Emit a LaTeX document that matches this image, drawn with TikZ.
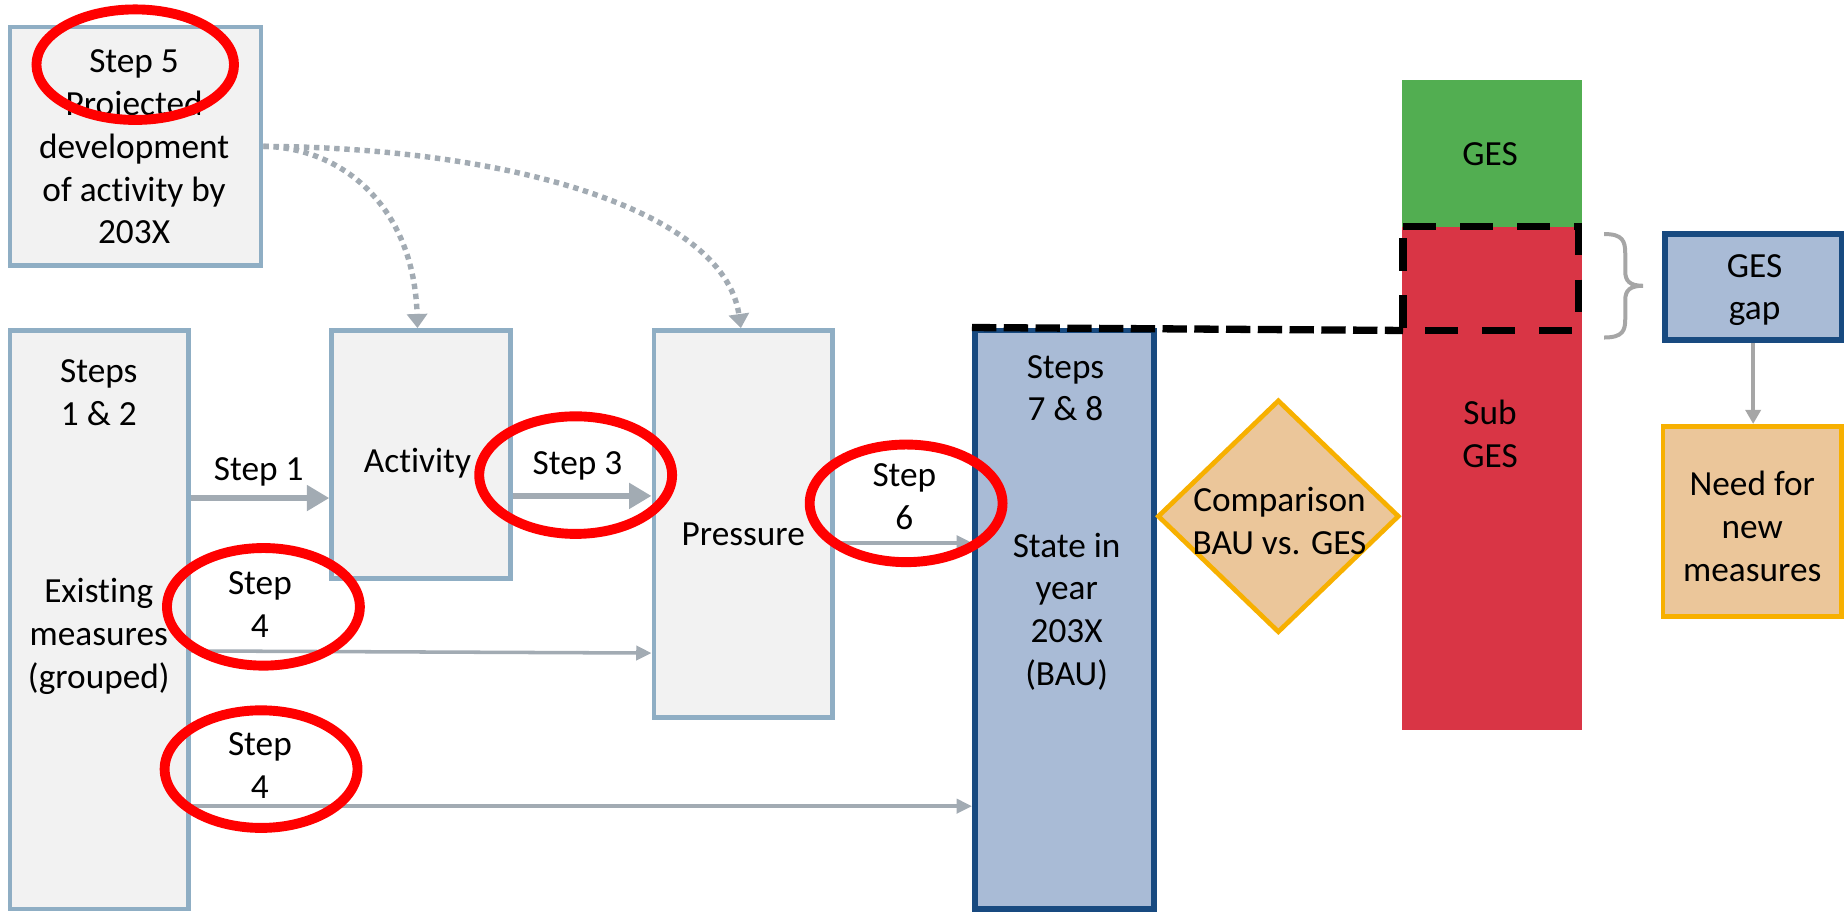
\documentclass[tikz,border=0pt]{standalone}
\usepackage{fontspec}
\setmainfont{Carlito}[Ligatures={NoCommon}]
\usetikzlibrary{arrows.meta,shapes.geometric,fit}
\definecolor{boxfill}{RGB}{242,242,242}
\definecolor{boxline}{RGB}{143,174,196}
\definecolor{conn}{RGB}{162,171,179}
\definecolor{bluefill}{RGB}{169,187,214}
\definecolor{blueline}{RGB}{24,74,128}
\definecolor{orfill}{RGB}{235,198,154}
\definecolor{orline}{RGB}{247,176,0}
\definecolor{gesgreen}{RGB}{82,174,81}
\definecolor{gesred}{RGB}{217,53,69}
\definecolor{bracegray}{RGB}{166,166,166}
\begin{document}
\begin{tikzpicture}[x=0.5pt,y=-0.5pt,
  lbl/.style={font=\fontsize{15}{18.2}\selectfont, align=center, inner sep=0pt},
  graybox/.style={draw=boxline, fill=boxfill, line width=2pt, inner sep=0pt},
  bluebox/.style={draw=blueline, fill=bluefill, line width=2.5pt, inner sep=0pt},
  orbox/.style={draw=orline, fill=orfill, line width=2pt, inner sep=0pt},
  fillbox/.style={inner sep=0pt, draw=none, outer sep=0pt},
  thickarrow/.style={draw=conn, line width=2.6pt, -{Triangle[length=9.5pt,width=10.5pt]}},
  thinarrow/.style={draw=conn, line width=1.5pt, -{Triangle[length=6.5pt,width=6pt]}},
  gaparrow/.style={draw=bracegray, line width=1.5pt, -{Triangle[length=6pt,width=6.4pt]}},
  dotarrow/.style={draw=conn, line width=2.3pt, dash pattern=on 2.3pt off 2pt, -{Triangle[length=6pt,width=8.5pt]}},
  ring/.style={draw=red, line width=4.2pt},
  gapline/.style={draw=black, line width=3.1pt},
  ]
\useasboundingbox (0,0) rectangle (1568,775.6);

% boxes
\node[graybox, fit={(8.5,23)(222,226)}] (s5) {};
\node[graybox, fit={(8.5,281)(160,773)}] (s12) {};
\node[graybox, fit={(282,281)(434,492)}] (act) {};
\node[graybox, fit={(556,281)(708,610)}] (pr) {};
\node[bluebox, fit={(829,281)(981,773)}] (s78) {};
\node[fillbox, fill=gesgreen, fit={(1192,68)(1345,193)}] (ges) {};
\node[fillbox, fill=gesred, fit={(1192,193)(1345,621)}] (sub) {};
\node[bluebox, fit={(1415.5,199)(1566,289)}] (gap) {};
\node[orbox, fit={(1414,362.5)(1566,524)}] (need) {};
\node[orbox, diamond, minimum width=102.8pt, minimum height=99pt] (cmp) at (1087,439) {};

% dashed gap outline
\draw[gapline, dash pattern=on 10.4pt off 3.1pt] (s78.north west) -- (1193,281);
\draw[gapline, dash pattern=on 13.9pt off 10.4pt] (1193,192.4) -- (1342,192.4) -- (1342,281) -- (1193,281) -- cycle;

% brace
\draw[bracegray, line width=1.7pt] (1364,199) .. controls (1380,199) and (1382,205) .. (1382,216)
  -- (1382,231) .. controls (1382,239) and (1386,243) .. (1397,243)
  .. controls (1386,243) and (1382,247) .. (1382,255)
  -- (1382,271) .. controls (1382,281) and (1380,287) .. (1364,287);

% texts
\node[lbl] (t5) at (114,125) {Step 5\\Projected\\development\\of activity by\\203X};
\node[lbl] (t12) at (84,334) {Steps\\1 \& 2};
\node[lbl] (tex) at (84,541) {Existing\\measures\\(grouped)};
\node[lbl] (tact) at (355,394) {Activity};
\node[lbl] (tpr) at (632,454) {Pressure};
\node[lbl] (t78) at (906,330) {Steps\\7 \& 8};
\node[lbl] (tst) at (907,520) {State in\\year\\203X\\(BAU)};
\node[lbl] (tcmp) at (1088,442.7) {Comparison\\BAU vs. GES};
\node[lbl] (tges) at (1267,131) {GES};
\node[lbl] (tsub) at (1267,369) {Sub\\GES};
\node[lbl] (tgap) at (1492,246.6) {GES\\gap};
\node[lbl] (tneed) at (1490,447.7) {Need for\\new\\measures};

% connectors
\draw[dotarrow] (s5.east) .. controls (290,125) and (352,175) .. ([xshift=-1.5pt]act.north);
\draw[dotarrow] (s5.east) .. controls (420,125) and (615,175) .. ([xshift=-1pt]pr.north);
\draw[thickarrow] (s12.east |- 0,423.5) -- (act.west |- 0,423.5);
\node[lbl] (l1) at (220,401) {Step 1};
\draw[thickarrow] (act.east |- 0,421.7) -- (pr.west |- 0,421.7);
\node[lbl] (l3) at (491,396) {Step 3};
\draw[thinarrow] (pr.east |- 0,461.5) -- (s78.west |- 0,461.5);
\node[lbl] (l6) at (769,422) {Step\\6};
\draw[thinarrow] (s12.east |- 0,553.5) -- (pr.west |- 0,555.3);
\node[lbl] (l4a) at (221,514) {Step\\4};
\draw[thinarrow] (s12.east |- 0,685.5) -- (s78.west |- 0,685.5);
\node[lbl] (l4b) at (221,651) {Step\\4};
\draw[gaparrow] (gap.south) -- (gap.south |- need.north);

% red rings
\draw[ring] (115,55) ellipse [x radius=42pt, y radius=23.5pt];
\draw[ring] (489.5,404) ellipse [x radius=41pt, y radius=25pt];
\draw[ring] (770.5,428) ellipse [x radius=41pt, y radius=25pt];
\draw[ring] (224,516) ellipse [x radius=41pt, y radius=25pt];
\draw[ring] (222,654) ellipse [x radius=41pt, y radius=25pt];
\end{tikzpicture}
\end{document}
